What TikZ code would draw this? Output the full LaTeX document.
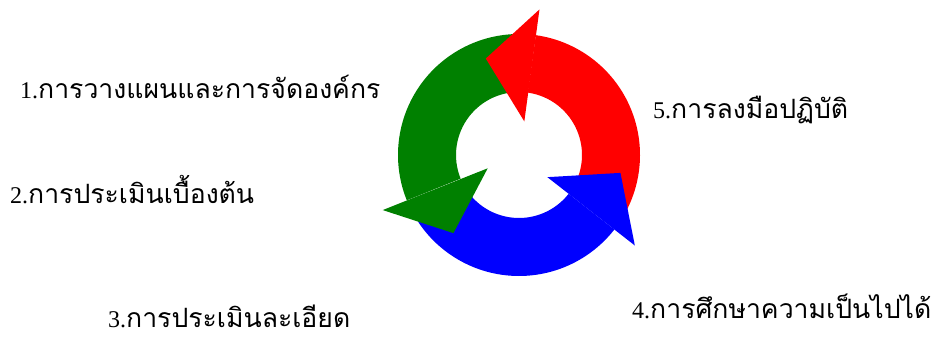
\documentclass[tikz,border=0pt]{standalone}
\usepackage{fontspec}
\setmainfont{Liberation Serif}
\newfontfamily\thaifont[Script=Thai]{Loma}
\definecolor{cred}{RGB}{255,0,0}
\definecolor{cgreen}{RGB}{0,128,0}
\definecolor{cblue}{RGB}{0,0,255}
\newcommand{\thtxt}[1]{{\thaifont\fontsize{26.6}{28}\selectfont #1}}
\begin{document}
\begin{tikzpicture}[x=1pt,y=1pt,
  lbl/.style={anchor=base west,inner sep=0pt,font=\fontsize{24}{26}\selectfont},
]
\useasboundingbox (0,0) rectangle (939,338);
\fill[white] (0,0) rectangle (939,338);
\begin{scope}[shift={(519,183)}]
  % bodies
  \fill[cred]   (-32:121) arc[start angle=-32,end angle=82,radius=121] -- (82:63) arc[start angle=82,end angle=-32,radius=63] -- cycle;
  \fill[cgreen] (88:121) arc[start angle=88,end angle=202,radius=121] -- (202:63) arc[start angle=202,end angle=88,radius=63] -- cycle;
  \fill[cblue]  (208:121) arc[start angle=208,end angle=322,radius=121] -- (322:63) arc[start angle=322,end angle=208,radius=63] -- cycle;
  % heads
  \fill[cred]   (82:147) -- (109:102) -- (81:34) -- cycle;
  \fill[cgreen] (202:147) -- (230:102) -- (203:34) -- cycle;
  \fill[cblue]  (322:147) -- (350:103) -- (322:36) -- cycle;
\end{scope}
\node[lbl] (t1) at (20,240) {1.\thtxt{การวางแผนและการจัดองค์กร}};
\node[lbl] (t2) at (10,135) {2.\thtxt{การประเมินเบื้องต้น}};
\node[lbl] (t3) at (108,11) {3.\thtxt{การประเมินละเอียด}};
\node[lbl] (t4) at (632,20) {4.\thtxt{การศึกษาความเป็นไปได้}};
\node[lbl] (t5) at (653,220) {5.\thtxt{การลงมือปฏิบัติ}};
\end{tikzpicture}
\end{document}
